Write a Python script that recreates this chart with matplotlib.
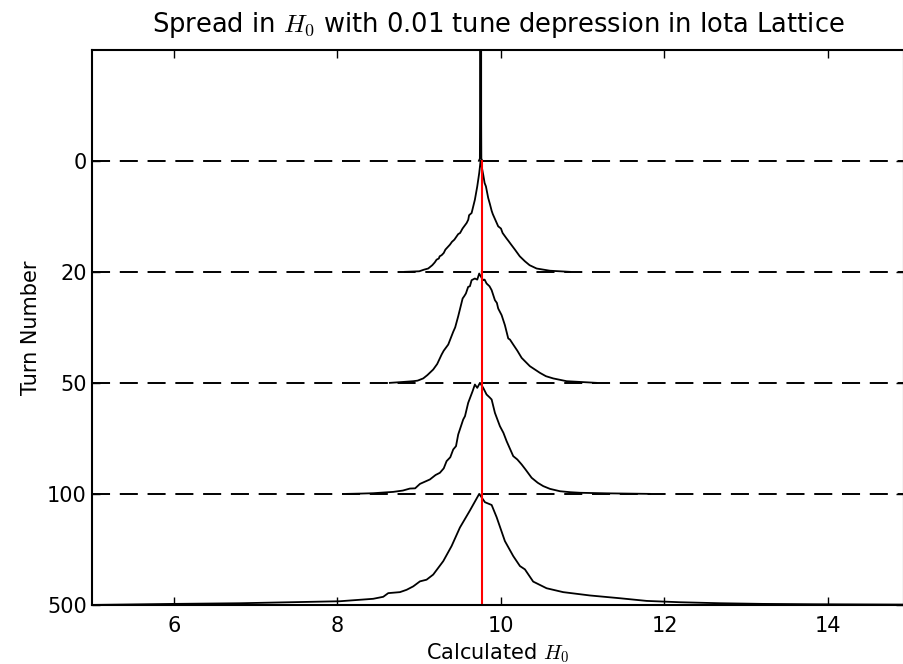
import matplotlib
matplotlib.use('Agg')
import matplotlib.pyplot as plt

# H0 spread per turn, normalised so each peak height = 1 row
turns = [0, 20, 50, 100, 500]
h0_ref = 9.77  # red reference line

# turn 0 : almost a delta function
x_t0 = [9.73, 9.742, 9.744, 9.751, 9.758, 9.760, 9.772]
h_t0 = [0.0, 0.02, 0.35, 30.0, 0.35, 0.02, 0.0]

x_t20 = [8.825, 9.00, 9.06, 9.110, 9.16, 9.19, 9.213, 9.24, 9.25, 9.274, 9.30, 9.32, 9.376,
         9.40, 9.43, 9.477, 9.50, 9.53, 9.580, 9.60, 9.61, 9.641, 9.681, 9.710, 9.734, 9.751,
         9.783, 9.80, 9.816, 9.844, 9.865, 9.886, 9.90, 9.93, 9.966, 10.00, 10.02, 10.069,
         10.09, 10.12, 10.171, 10.23, 10.293, 10.35, 10.436, 10.599, 10.843]
h_t20 = [0.0, 0.005, 0.02, 0.03, 0.06, 0.085, 0.11, 0.12, 0.14, 0.15, 0.17, 0.20, 0.245,
         0.27, 0.29, 0.34, 0.35, 0.39, 0.44, 0.47, 0.51, 0.53, 0.65, 0.77, 0.89, 1.0,
         0.875, 0.80, 0.77, 0.665, 0.61, 0.55, 0.52, 0.47, 0.41, 0.39, 0.35, 0.30,
         0.28, 0.25, 0.20, 0.14, 0.095, 0.06, 0.03, 0.01, 0.0]

x_t50 = [8.641, 8.80, 8.927, 8.98, 9.049, 9.10, 9.171, 9.22, 9.274, 9.30, 9.355, 9.416, 9.44,
         9.477, 9.531, 9.55, 9.571, 9.599, 9.62, 9.641, 9.681, 9.71, 9.734, 9.76, 9.783,
         9.80, 9.824, 9.86, 9.886, 9.926, 9.95, 9.966, 10.008, 10.048, 10.089, 10.11,
         10.150, 10.20, 10.253, 10.30, 10.354, 10.477, 10.55, 10.639, 10.803, 11.170]
h_t50 = [0.0, 0.008, 0.015, 0.02, 0.04, 0.07, 0.12, 0.17, 0.255, 0.29, 0.345, 0.46, 0.50,
         0.6, 0.76, 0.78, 0.805, 0.865, 0.87, 0.925, 0.94, 0.93, 0.985, 0.95, 0.925,
         0.93, 0.895, 0.87, 0.835, 0.745, 0.72, 0.67, 0.61, 0.52, 0.40, 0.39,
         0.345, 0.29, 0.225, 0.19, 0.15, 0.09, 0.06, 0.04, 0.015, 0.0]

x_t100 = [8.112, 8.30, 8.437, 8.56, 8.682, 8.80, 8.886, 8.95, 9.009, 9.07, 9.131, 9.20, 9.253,
          9.30, 9.335, 9.38, 9.416, 9.45, 9.477, 9.538, 9.56, 9.599, 9.653, 9.681, 9.710,
          9.743, 9.783, 9.824, 9.86, 9.886, 9.926, 9.987, 10.03, 10.069, 10.150, 10.20,
          10.253, 10.30, 10.375, 10.45, 10.517, 10.60, 10.721, 10.85, 10.966, 11.292, 11.822]
h_t100 = [0.0, 0.003, 0.006, 0.012, 0.018, 0.03, 0.048, 0.05, 0.09, 0.11, 0.13, 0.17, 0.19,
          0.23, 0.295, 0.33, 0.40, 0.43, 0.535, 0.67, 0.70, 0.82, 0.925, 0.985, 0.955,
          1.0, 0.955, 0.895, 0.87, 0.85, 0.73, 0.61, 0.55, 0.475, 0.34, 0.31,
          0.265, 0.22, 0.145, 0.10, 0.07, 0.045, 0.024, 0.015, 0.01, 0.005, 0.0]

x_t500 = [5.012, 5.991, 6.807, 7.623, 8.030, 8.437, 8.560, 8.621, 8.764, 8.846, 8.927, 9.009,
          9.090, 9.171, 9.294, 9.396, 9.498, 9.620, 9.734, 9.804, 9.886, 9.947, 10.048,
          10.150, 10.232, 10.293, 10.394, 10.558, 10.761, 11.088, 11.455, 11.782, 12.189,
          12.679, 13.208, 13.820, 14.921]
h_t500 = [0.0, 0.009, 0.015, 0.027, 0.033, 0.055, 0.073, 0.106, 0.115, 0.136, 0.167, 0.212,
          0.227, 0.273, 0.394, 0.53, 0.697, 0.85, 1.0, 0.925, 0.90, 0.79, 0.575,
          0.44, 0.35, 0.32, 0.21, 0.15, 0.115, 0.085, 0.06, 0.036, 0.024,
          0.015, 0.009, 0.006, 0.003]

xs = [x_t0, x_t20, x_t50, x_t100, x_t500]
hs = [h_t0, h_t20, h_t50, h_t100, h_t500]

plt.rcParams['mathtext.fontset'] = 'cm'
plt.rcParams['font.family'] = 'DejaVu Sans'
plt.rcParams['lines.scale_dashes'] = False

fig, ax = plt.subplots(figsize=(9.04, 6.64), dpi=100)
fig.subplots_adjust(left=0.102, right=1.0, bottom=0.089, top=0.925)

levels = [-i for i in range(len(turns))]  # row of each turn, top to bottom
for x, h, lev in zip(xs, hs, levels):
    ax.plot(x, [lev + v for v in h], color='k', lw=1.3)

# dashed baselines (not for the last one, it sits on the axis)
for lev in levels[:-1]:
    ax.axhline(lev, color='k', lw=1.4, dashes=(13, 7))

ax.plot([h0_ref, h0_ref], [levels[0], levels[-1]], color='red', lw=1.5)

ax.set_xlim(5, 14.93)
ax.set_ylim(levels[-1], 1)
ax.set_xticks([6, 8, 10, 12, 14])
ax.set_yticks(levels)
ax.set_yticklabels([str(t) for t in turns])
ax.tick_params(direction='in', length=6, width=1, top=True, right=True, labelsize=15)
ax.tick_params(axis='x', pad=8)
ax.tick_params(axis='y', pad=4)
for s in ax.spines.values():
    s.set_linewidth(1.5)

ax.set_xlabel('Calculated $H_0$', fontsize=15)
ax.set_ylabel('Turn Number', fontsize=15)
ax.set_title('Spread in $H_0$ with 0.01 tune depression in Iota Lattice', fontsize=18.5, pad=13)

plt.savefig('out.png', dpi=100)
